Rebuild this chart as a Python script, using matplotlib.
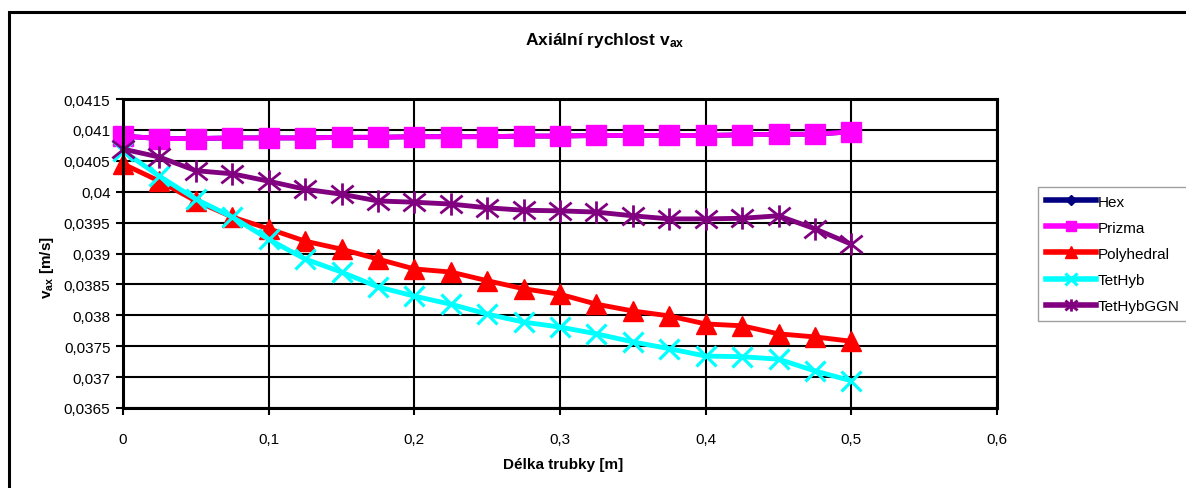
import matplotlib
matplotlib.use("Agg")
import matplotlib.pyplot as plt
from matplotlib.ticker import FuncFormatter, MultipleLocator
from matplotlib.patches import Rectangle
from matplotlib.path import Path

plt.rcParams['font.family'] = ['Liberation Sans', 'DejaVu Sans']
plt.rcParams['mathtext.fontset'] = 'custom'
plt.rcParams['mathtext.rm'] = 'Liberation Sans'
plt.rcParams['mathtext.it'] = 'Liberation Sans'
plt.rcParams['mathtext.bf'] = 'Liberation Sans:bold'

x = [0, 0.025, 0.05, 0.075, 0.1, 0.125, 0.15, 0.175, 0.2, 0.225, 0.25,
     0.275, 0.3, 0.325, 0.35, 0.375, 0.4, 0.425, 0.45, 0.475, 0.5]

hex_v = [0.04090, 0.04086, 0.04086, 0.04087, 0.04087, 0.04087, 0.04088, 0.04088,
         0.04089, 0.04089, 0.04089, 0.04090, 0.04090, 0.04091, 0.04091, 0.04091,
         0.04091, 0.04092, 0.04093, 0.04093, 0.04097]
prizma = [0.04090, 0.04086, 0.04086, 0.04087, 0.04087, 0.04087, 0.04088, 0.04088,
          0.04089, 0.04089, 0.04089, 0.04090, 0.04090, 0.04091, 0.04091, 0.04091,
          0.04091, 0.04092, 0.04093, 0.04093, 0.04097]
polyhedral = [0.04045, 0.04017, 0.03985, 0.03959, 0.03940, 0.03920, 0.03907, 0.03891,
              0.03875, 0.03870, 0.03856, 0.03843, 0.03834, 0.03818, 0.03807, 0.03799,
              0.03786, 0.03783, 0.03770, 0.03765, 0.03758]
tethyb = [0.04066, 0.04025, 0.03988, 0.03959, 0.03923, 0.03891, 0.03870, 0.03846,
          0.03831, 0.03818, 0.03802, 0.03789, 0.03781, 0.03770, 0.03757, 0.03746,
          0.03734, 0.03733, 0.03729, 0.03710, 0.03694]
tethybggn = [0.04069, 0.04056, 0.04034, 0.04029, 0.04017, 0.04004, 0.03996, 0.03985,
             0.03983, 0.03980, 0.03974, 0.03970, 0.03969, 0.03967, 0.03961, 0.03956,
             0.03956, 0.03957, 0.03961, 0.03940, 0.03915]

# Excel-style star marker: an X plus a vertical bar
star = Path([(0, -1), (0, 1), (-1, -0.8), (1, 0.8), (-1, 0.8), (1, -0.8)],
            [Path.MOVETO, Path.LINETO, Path.MOVETO, Path.LINETO,
             Path.MOVETO, Path.LINETO])

series = [
    ("Hex", hex_v, "#000080", "D", 10, 1),
    ("Prizma", prizma, "#FF00FF", "s", 14, 1),
    ("Polyhedral", polyhedral, "#FF0000", "^", 14.5, 1),
    ("TetHyb", tethyb, "#00FFFF", "x", 14.5, 2.3),
    ("TetHybGGN", tethybggn, "#800080", star, 16, 2.0),
]

W, H = 1186, 489
fig = plt.figure(figsize=(W / 100, H / 100), dpi=100)
ax = fig.add_axes([123 / W, 1 - 409 / H, (997 - 123) / W, (409 - 100) / H])

for name, vals, col, mk, ms, mew in series:
    ax.plot(x, vals, color=col, lw=3.5, marker=mk, markersize=ms,
            markeredgewidth=mew, markerfacecolor=col, markeredgecolor=col,
            label=name, clip_on=False)

ax.set_xlim(0, 0.6)
ax.set_ylim(0.0365, 0.0415)
ax.xaxis.set_major_locator(MultipleLocator(0.1))
ax.yaxis.set_major_locator(MultipleLocator(0.0005))


def comma_fmt(v, pos):
    s = f"{round(v, 6):g}"
    return s.replace('.', ',')


ax.xaxis.set_major_formatter(FuncFormatter(comma_fmt))
ax.yaxis.set_major_formatter(FuncFormatter(comma_fmt))
ax.grid(True, color='black', lw=1.5)
ax.set_axisbelow(True)
for sp in ax.spines.values():
    sp.set_linewidth(2.2)
ax.tick_params(axis='both', direction='out', length=5, width=1.5, labelsize=11,
               pad=4)
ax.tick_params(axis='x', pad=12)

ax.set_xlabel("Délka trubky [m]", fontsize=11, fontweight='bold')
ax.xaxis.set_label_coords((563 - 123) / 874, (409 - 465) / 309)
ax.xaxis.label.set_va('center')
ax.set_ylabel(r"v$_{\mathbf{ax}}$ [m/s]", fontsize=11, fontweight='bold')
ax.yaxis.set_label_coords((47 - 123) / 874, (409 - 268) / 309)
ax.yaxis.label.set_va('center')

fig.text(605 / W, 1 - 40 / H, r"Axiální rychlost v$_{\mathbf{ax}}$",
         fontsize=12.5, fontweight='bold', ha='center', va='center')

leg = ax.legend(loc='upper left', bbox_to_anchor=(1038 / W, 1 - 188 / H),
                bbox_transform=fig.transFigure, fontsize=11, frameon=True,
                fancybox=False, edgecolor='#888888', handlelength=3.3,
                handletextpad=0.1, borderpad=0.5, labelspacing=0.79,
                borderaxespad=0, markerscale=0.55)
leg.get_frame().set_linewidth(1.0)
for line in leg.get_lines():
    line.set_linewidth(4)

fig.patches.append(Rectangle((9 / W, -0.1), 1.2, 1 - 13 / H + 0.1,
                             transform=fig.transFigure, fill=False,
                             edgecolor='black', lw=2.2))

fig.savefig("out.png", dpi=100)
